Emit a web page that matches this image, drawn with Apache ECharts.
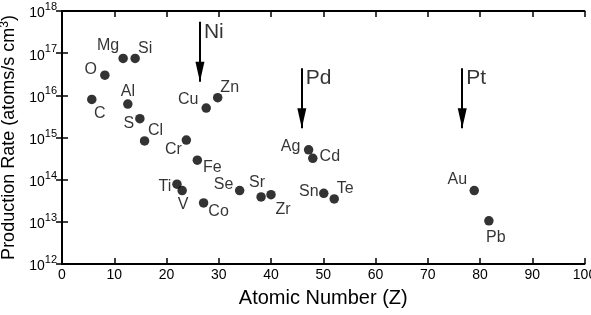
<!DOCTYPE html>
<html>
<head>
<meta charset="utf-8">
<script src="https://cdn.jsdelivr.net/npm/echarts@6/dist/echarts.min.js"></script>
<style>html,body{margin:0;padding:0;background:#fff}#c{width:591px;height:315px}</style>
</head>
<body>
<div id="c"></div>
<script>
// Element symbols
const elements = ['C','O','Mg','Si','Al','S','Cl','Cr','Fe','Cu','Zn','Ti','V','Co','Se','Sr','Zr','Ag','Cd','Sn','Te','Au','Pb'];
// Atomic number positions (as plotted)
const atomicZ = [5.7, 8.2, 11.7, 14.0, 12.6, 14.9, 15.8, 23.8, 25.9, 27.6, 29.8, 22.0, 23.0, 27.1, 34.0, 38.1, 40.0, 47.2, 48.0, 50.1, 52.1, 78.9, 81.7];
// Production rate (atoms/s cm^3)
const rates = [8.0e15, 3.0e16, 7.5e16, 7.5e16, 6.2e15, 2.8e15, 8.3e14, 8.7e14, 2.9e14, 5.0e15, 8.8e15, 7.8e13, 5.5e13, 2.8e13, 5.5e13, 3.9e13, 4.4e13, 5.1e14, 3.2e14, 4.75e13, 3.5e13, 5.5e13, 1.06e13];

// Arrow annotations
const arrowNames = ['Ni', 'Pd', 'Pt'];
const arrowZ = [26.4, 45.9, 76.6];
const arrowTop = [5.57e17, 4.38e16, 4.38e16];
const arrowTip = [2.1e16, 1.65e15, 1.65e15];

// Axis ticks
const xTicks = [0, 10, 20, 30, 40, 50, 60, 70, 80, 90, 100];
const yExponents = [12, 13, 14, 15, 16, 17, 18];

// label offsets (style, px)
const labelOffset = {
  C: [8, 14], O: [-14, -6], Mg: [-15, -13], Si: [10, -10], Al: [0, -12], S: [-11, 5], Cl: [11, -10],
  Cr: [-13, 10], Fe: [15, 7], Cu: [-18, -8], Zn: [12, -10], Ti: [-12, 2], V: [1, 14], Co: [15, 9],
  Se: [-16, -6], Sr: [-4, -14], Zr: [12, 15], Ag: [-18, -3], Cd: [17, -2], Sn: [-15, -2], Te: [11, -10],
  Au: [-17, -11], Pb: [7, 17]
};

const FONT = '"Liberation Sans", Arial, Helvetica, sans-serif';

const chart = echarts.init(document.getElementById('c'), null, {renderer: 'canvas'});

const pointData = elements.map((n, i) => ({
  name: n,
  value: [atomicZ[i], rates[i]],
  label: {offset: labelOffset[n]}
}));

const arrowLines = arrowNames.map((n, i) => [
  {coord: [arrowZ[i], arrowTop[i]]},
  {coord: [arrowZ[i], arrowTip[i]]}
]);

const arrowLabels = arrowNames.map((n, i) => ({name: n, value: [arrowZ[i], arrowTop[i]]}));

const supRich = {
  b: {fontSize: 14, fontFamily: FONT, color: '#000', verticalAlign: 'bottom'},
  s: {fontSize: 11, fontFamily: FONT, color: '#000', verticalAlign: 'bottom', padding: [0, 0, 8, 0]}
};

chart.setOption({
  animation: false,
  backgroundColor: '#fff',
  grid: {left: 62, right: 6.5, top: 11, bottom: 51, containLabel: false, outerBoundsMode: 'none'},
  xAxis: [{
    type: 'value', min: xTicks[0], max: xTicks[xTicks.length - 1], interval: 10,
    name: 'Atomic Number (Z)', nameLocation: 'middle', nameGap: 24,
    nameTextStyle: {fontSize: 20, fontFamily: FONT, color: '#000'},
    axisLine: {show: true, lineStyle: {color: '#000', width: 2}},
    axisTick: {show: true, inside: true, length: 6, lineStyle: {color: '#000', width: 1.5}},
    axisLabel: {fontSize: 14, fontFamily: FONT, color: '#000', margin: 4},
    splitLine: {show: false}
  }, {
    type: 'value', position: 'top', min: xTicks[0], max: xTicks[xTicks.length - 1], interval: 10,
    axisLine: {show: true, lineStyle: {color: '#000', width: 2}},
    axisTick: {show: true, inside: true, length: 6, lineStyle: {color: '#000', width: 1.5}},
    axisLabel: {show: false}, splitLine: {show: false}
  }],
  yAxis: [{
    type: 'log', logBase: 10, min: Math.pow(10, yExponents[0]), max: Math.pow(10, yExponents[yExponents.length - 1]),
    name: 'Production Rate (atoms/s cm{s|3})', nameLocation: 'middle', nameGap: 38,
    nameTextStyle: {fontSize: 18, fontFamily: FONT, color: '#000',
      rich: {s: {fontSize: 12, fontFamily: FONT, color: '#000', verticalAlign: 'bottom', padding: [0, 0, 9, 0]}}},
    axisLine: {show: true, lineStyle: {color: '#000', width: 2}},
    axisTick: {show: true, inside: true, length: 6, lineStyle: {color: '#000', width: 1.5}},
    axisLabel: {margin: 5, formatter: v => '{b|10}{s|' + Math.round(Math.log10(v)) + '}', rich: supRich},
    minorTick: {show: false},
    splitLine: {show: false}
  }, {
    type: 'log', logBase: 10, position: 'right', min: Math.pow(10, yExponents[0]), max: Math.pow(10, yExponents[yExponents.length - 1]),
    axisLine: {show: true, lineStyle: {color: '#000', width: 2}},
    axisTick: {show: true, inside: true, length: 6, lineStyle: {color: '#000', width: 1.5}},
    axisLabel: {show: false}, splitLine: {show: false}
  }],
  series: [{
    type: 'scatter',
    symbol: 'circle', symbolSize: 9.5,
    itemStyle: {color: '#000'},
    data: pointData,
    label: {
      show: true, position: 'inside', formatter: '{b}',
      fontSize: 16, fontFamily: FONT, color: '#000', align: 'center', verticalAlign: 'middle'
    },
    z: 3
  }, {
    type: 'scatter',
    symbolSize: 0,
    data: arrowLabels,
    label: {show: true, position: 'right', distance: 4, offset: [0, 10], formatter: '{b}',
      fontSize: 21, fontFamily: FONT, color: '#000'},
    markLine: {
      silent: true,
      symbol: ['none', 'triangle'],
      symbolSize: [9, 20],
      symbolOffset: [[0, 0], [0, 10]],
      label: {show: false},
      lineStyle: {color: '#000', width: 2, type: 'solid'},
      data: arrowLines
    }
  }]
});
</script>
</body>
</html>
